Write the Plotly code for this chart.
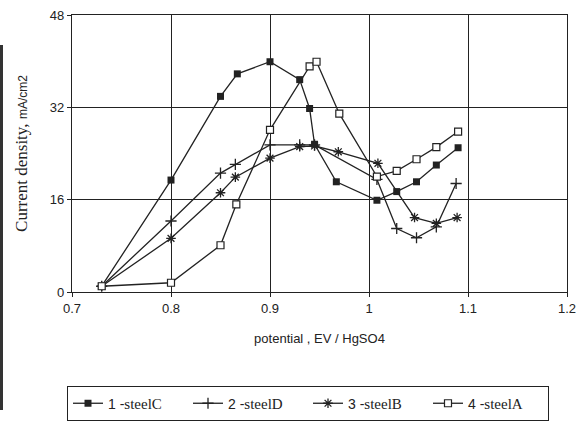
import plotly.graph_objects as go

# Data
x_c = [0.73, 0.80, 0.85, 0.867, 0.90, 0.93, 0.94, 0.945, 0.967, 1.008, 1.028, 1.048, 1.068, 1.09]
y_c = [1.0, 19.4, 33.9, 37.8, 39.9, 36.8, 31.8, 25.6, 19.1, 15.9, 17.4, 19.1, 22.0, 25.0]

x_d = [0.73, 0.80, 0.85, 0.865, 0.90, 0.93, 0.945, 1.008, 1.028, 1.048, 1.068, 1.088]
y_d = [1.0, 12.3, 20.6, 22.1, 25.5, 25.5, 25.5, 19.5, 11.0, 9.4, 11.3, 18.8]

x_b = [0.73, 0.80, 0.85, 0.865, 0.90, 0.93, 0.945, 0.969, 1.009, 1.046, 1.068, 1.089]
y_b = [1.0, 9.3, 17.2, 19.9, 23.2, 25.2, 25.3, 24.3, 22.3, 12.9, 11.9, 12.9]

x_a = [0.73, 0.80, 0.85, 0.866, 0.90, 0.94, 0.947, 0.97, 1.008, 1.028, 1.048, 1.068, 1.09]
y_a = [1.0, 1.6, 8.1, 15.2, 28.1, 39.1, 39.9, 30.9, 20.0, 21.0, 23.0, 25.1, 27.8]

x_ticks = [0.7, 0.8, 0.9, 1.0, 1.1, 1.2]
x_tick_text = ["0.7", "0.8", "0.9", "1", "1.1", "1.2"]
y_ticks = [0, 16, 32, 48]

SERIF = "Liberation Serif"
SANS = "Liberation Sans"
INK = "#222222"

def lbl(num, name):
    return (f"<span style='font-family:{SANS};font-size:14px'>{num} -</span>"
            f"<span style='font-family:{SERIF}'>{name}</span>")

fig = go.Figure()
fig.add_trace(go.Scatter(
    x=x_c, y=y_c, mode="lines+markers", name=lbl(1, "steelC"),
    line=dict(color=INK, width=1.3),
    marker=dict(symbol="square", size=7, color=INK)))
fig.add_trace(go.Scatter(
    x=x_d, y=y_d, mode="lines+markers", name=lbl(2, "steelD"),
    line=dict(color=INK, width=1.3),
    marker=dict(symbol="cross-thin-open", size=8, color=INK, line=dict(width=1.3, color=INK))))
fig.add_trace(go.Scatter(
    x=x_b, y=y_b, mode="lines+markers", name=lbl(3, "steelB"),
    line=dict(color=INK, width=1.3),
    marker=dict(symbol="asterisk-open", size=8, color=INK, line=dict(width=1.3, color=INK))))
fig.add_trace(go.Scatter(
    x=x_a, y=y_a, mode="lines+markers", name=lbl(4, "steelA"),
    line=dict(color=INK, width=1.3),
    marker=dict(symbol="square", size=7, color="white", line=dict(width=1.2, color=INK))))

fig.update_layout(
    width=580, height=426,
    margin=dict(l=72, r=13, t=15, b=134),
    paper_bgcolor="white", plot_bgcolor="white",
    font=dict(family=SANS, size=13, color=INK),
    showlegend=True,
    legend=dict(
        orientation="h",
        xref="container", x=308/580, xanchor="center",
        yref="container", y=1 - 386/426, yanchor="top",
        bordercolor=INK, borderwidth=1, bgcolor="white",
        font=dict(family=SERIF, size=15, color=INK),
        entrywidth=75, entrywidthmode="pixels",
        tracegroupgap=0),
    xaxis=dict(
        range=[0.7, 1.2], tickvals=x_ticks, ticktext=x_tick_text,
        showgrid=True, gridcolor=INK, gridwidth=1.2,
        showline=True, linecolor=INK, linewidth=1.3, mirror=True,
        ticks="outside", ticklen=4, tickcolor=INK,
        zeroline=False, automargin=False,
        tickfont=dict(family=SANS, size=13, color=INK),
        title=dict(text="potential , EV / HgSO4", font=dict(family=SANS, size=13, color=INK), standoff=19)),
    yaxis=dict(
        range=[0, 48], tickvals=y_ticks,
        showgrid=True, gridcolor=INK, gridwidth=1.2,
        showline=True, linecolor=INK, linewidth=1.3, mirror=True,
        ticks="outside", ticklen=4, tickcolor=INK,
        zeroline=False, automargin=False,
        tickfont=dict(family=SANS, size=13, color=INK),
        title=dict(
            text=(f"<span style='font-family:{SERIF};font-size:17px'>Current density,</span>"
                  f" <span style='font-family:{SANS};font-size:12px'>mA/cm2</span>"),
            standoff=18)),
)

# dark scanner edge on the far left of the picture
fig.add_shape(type="rect", xref="paper", yref="paper",
              x0=-72/495, x1=-69/495, y0=(292-410)/277, y1=(292-45)/277,
              fillcolor="#333333", line=dict(width=0))

fig.write_html("out.html",
               config={"displayModeBar": False},
               post_script="document.body.style.margin='0';document.body.style.overflow='hidden';")
